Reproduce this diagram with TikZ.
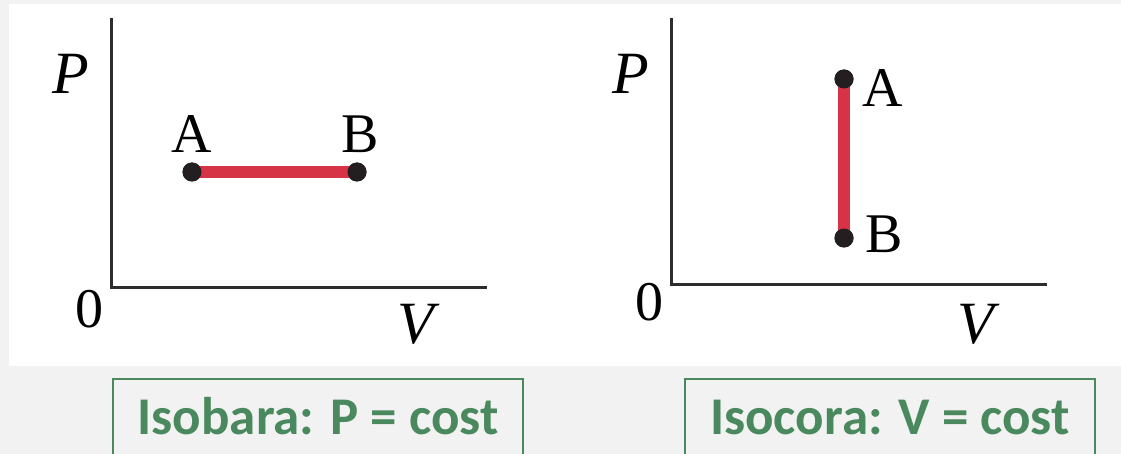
\documentclass[tikz,border=0pt]{standalone}
\usepackage{fontspec}
\setmainfont{Liberation Serif}
\newfontfamily\capfont{Carlito}
\usetikzlibrary{positioning, calc}
\definecolor{bggray}{RGB}{242, 242, 242}
\definecolor{axisgray}{RGB}{45, 45, 45}
\definecolor{procred}{RGB}{214, 52, 70}
\definecolor{dotblack}{RGB}{35, 31, 32}
\definecolor{capgreen}{RGB}{74, 136, 94}
\tikzset{
  axis/.style={draw=axisgray, line width=3pt},
  proc/.style={draw=procred, line width=12pt},
  statedot/.style={circle, fill=dotblack, inner sep=0pt, minimum size=19pt},
  axlab/.style={inner sep=0pt, anchor=base, font=\fontsize{60}{60}\selectfont\itshape},
  ptlab/.style={inner sep=0pt, anchor=base, font=\fontsize{56}{56}\selectfont},
  capbox/.style={draw=capgreen, line width=2pt, fill=bggray, anchor=north,
    inner sep=0pt, text height=55pt, text depth=40pt, minimum width=410pt,
    text=capgreen, font=\capfont\bfseries\fontsize{53}{53}\selectfont}
}
\begin{document}
\begin{tikzpicture}[x=1pt, y=-1pt]
  \useasboundingbox (0,0) rectangle (1121,454);
  \fill[bggray] (0,0) rectangle (1121,454);
  \fill[white] (9,4) rectangle (1121,366);

  % isobaric process
  \draw[axis] (111,18) -- (111,287) -- (487,287);
  \node[axlab] (p1) at (71,94) {P};
  \node[axlab] (v1) at (416,343) {V};
  \node[ptlab] (o1) at (89,327) {0};
  \node[statedot] (a1) at (192,172) {};
  \node[statedot] (b1) at (357,172) {};
  \draw[proc] (a1.center) -- (b1.center);
  \node[statedot] at (a1) {};
  \node[statedot] at (b1) {};
  \node[ptlab] (la1) at (192,153) {A};
  \node[ptlab] (lb1) at (360,153) {B};

  % isochoric process
  \draw[axis] (671,18) -- (671,284) -- (1047,284);
  \node[axlab] (p2) at (631,94) {P};
  \node[axlab] (v2) at (976,343) {V};
  \node[ptlab] (o2) at (649,320) {0};
  \node[statedot] (a2) at (844,79) {};
  \node[statedot] (b2) at (844,238) {};
  \draw[proc] (a2.center) -- (b2.center);
  \node[statedot] at (a2) {};
  \node[statedot] at (b2) {};
  \node[ptlab] (la2) at (883,107) {A};
  \node[ptlab] (lb2) at (884,253) {B};

  % captions
  \node[capbox] (isobar) at (318,378) {Isobara: P = cost};
  \node[capbox] (isochor) at (890,378) {Isocora: V = cost};
\end{tikzpicture}
\end{document}
